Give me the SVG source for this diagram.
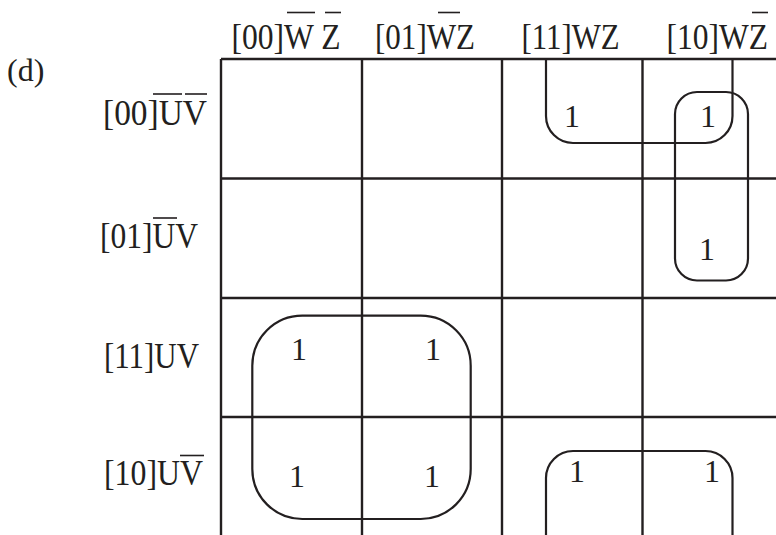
<svg xmlns="http://www.w3.org/2000/svg" width="776" height="535" viewBox="0 0 776 535">
<style>
.t{font-family:"Liberation Serif","Times New Roman",serif;font-size:35px;fill:#231f20}
.d{font-family:"Liberation Serif","Times New Roman",serif;font-size:32px;fill:#231f20}
.g{stroke:#231f20;stroke-width:2.4;fill:none}
.l{stroke:#231f20;stroke-width:2.2;fill:none}
.b{stroke:#231f20;stroke-width:1.6}
</style>
<rect width="776" height="535" fill="#ffffff"/>
<text class="d" x="7" y="80.5" font-size="31">(d)</text>
<g id="col-labels">
<g id="c00"><text class="t" x="231.5" y="48.5" textLength="109" lengthAdjust="spacingAndGlyphs">[00]W Z</text><line class="b" x1="287" y1="12.5" x2="315" y2="12.5"/><line class="b" x1="325" y1="12.5" x2="341" y2="12.5"/></g>
<g id="c01"><text class="t" x="375" y="48.5" textLength="100" lengthAdjust="spacingAndGlyphs">[01]WZ</text><line class="b" x1="438" y1="12.5" x2="460" y2="12.5"/></g>
<g id="c11"><text class="t" x="521.5" y="48.5" textLength="98" lengthAdjust="spacingAndGlyphs">[11]WZ</text></g>
<g id="c10"><text class="t" transform="translate(666.5,48.5) scale(0.9,1)" x="0" y="0">[10]WZ</text><line class="b" x1="752" y1="12.5" x2="768" y2="12.5"/></g>
</g>
<g id="row-labels">
<g id="r00"><text class="t" x="103" y="125" textLength="104" lengthAdjust="spacingAndGlyphs">[00]UV</text><line class="b" x1="153" y1="94" x2="182" y2="94"/><line class="b" x1="185" y1="94" x2="207" y2="94"/></g>
<g id="r01"><text class="t" x="100" y="248" textLength="98" lengthAdjust="spacingAndGlyphs">[01]UV</text><line class="b" x1="153" y1="218" x2="177" y2="218"/></g>
<g id="r11"><text class="t" x="104" y="368" textLength="95" lengthAdjust="spacingAndGlyphs">[11]UV</text></g>
<g id="r10"><text class="t" x="104" y="485" textLength="99" lengthAdjust="spacingAndGlyphs">[10]UV</text><line class="b" x1="180" y1="455.5" x2="204" y2="455.5"/></g>
</g>
<g id="grid">
<line class="g" x1="221" y1="59" x2="776" y2="59"/>
<line class="g" x1="221" y1="178.5" x2="776" y2="178.5"/>
<line class="g" x1="221" y1="298" x2="776" y2="298"/>
<line class="g" x1="221" y1="417" x2="776" y2="417"/>
<line class="g" x1="221" y1="59" x2="221" y2="535"/>
<line class="g" x1="362" y1="59" x2="362" y2="535"/>
<line class="g" x1="502" y1="59" x2="502" y2="535"/>
<line class="g" x1="642.5" y1="59" x2="642.5" y2="535"/>
</g>
<g id="cells" class="d" text-anchor="middle">
<text x="572" y="127">1</text>
<text x="708" y="127">1</text>
<text x="707" y="260">1</text>
<text x="299" y="360">1</text>
<text x="433" y="360">1</text>
<text x="297" y="487">1</text>
<text x="432" y="487">1</text>
<text x="577" y="482">1</text>
<text x="712" y="482">1</text>
</g>
<g id="loops">
<path class="l" d="M546,59 V116 A27,27 0 0 0 573,143 H705.5 A27,27 0 0 0 732.5,116 V59"/>
<path class="l" d="M546,535 V478 A27,27 0 0 1 573,451 H705.5 A27,27 0 0 1 732.5,478 V535"/>
<rect class="l" x="675" y="92" width="73" height="188.5" rx="22"/>
<rect class="l" x="252.3" y="315.7" width="218.4" height="203.3" rx="50"/>
</g>
</svg>
